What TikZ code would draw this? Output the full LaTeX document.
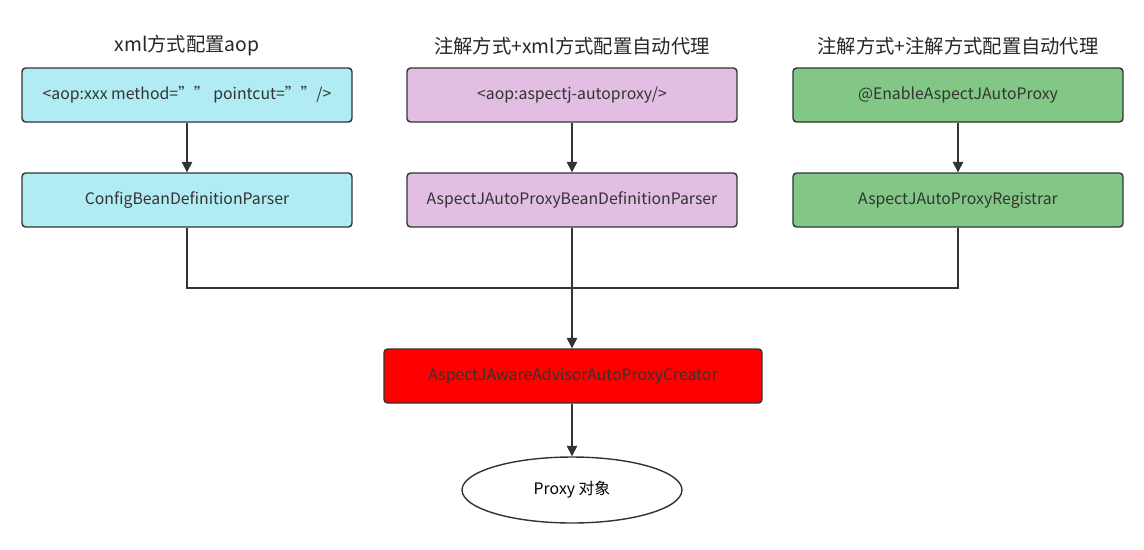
\documentclass[tikz,border=0pt]{standalone}
\usepackage{fontspec}
\setmainfont{Noto Sans CJK SC}
\usetikzlibrary{arrows.meta,shapes.geometric}
\definecolor{boxcyan}{HTML}{B1EBF3}
\definecolor{boxpink}{HTML}{E1BEE2}
\definecolor{boxgreen}{HTML}{82C785}
\begin{document}
\begin{tikzpicture}[x=0.02cm,y=-0.02cm,
    box/.style={draw=black!80, thick, rounded corners=2pt, minimum width=6.6cm, minimum height=1.08cm, font=\fontsize{9}{10}\selectfont, text=black!80},
    title/.style={font=\fontsize{11}{12}\selectfont, text=black!85},
    arr/.style={thick, draw=black!80, -{Triangle[length=6pt,width=6pt]}},
    ln/.style={thick, draw=black!80}]
    \useasboundingbox (0,0) rectangle (1144,549);
    % titles
    \node[title] (t1) at (187,46) {xml方式配置aop};
    \node[title] (t2) at (572,46) {注解方式+xml方式配置自动代理};
    \node[title] (t3) at (958,46) {注解方式+注解方式配置自动代理};
    % first row
    \node[box, fill=boxcyan] (a1) at (187,95) {<aop:xxx method="{}" pointcut="{}"/>};
    \node[box, fill=boxpink] (a2) at (572,95) {<aop:aspectj-autoproxy/>};
    \node[box, fill=boxgreen] (a3) at (958,95) {@EnableAspectJAutoProxy};
    % second row
    \node[box, fill=boxcyan] (b1) at (187,200) {ConfigBeanDefinitionParser};
    \node[box, fill=boxpink] (b2) at (572,200) {AspectJAutoProxyBeanDefinitionParser};
    \node[box, fill=boxgreen] (b3) at (958,200) {AspectJAutoProxyRegistrar};
    % creator
    \node[box, fill=red, minimum width=7.56cm] (c) at (573,376) {AspectJAwareAdvisorAutoProxyCreator};
    \node[draw=black!80, thick, ellipse, minimum width=4.4cm, minimum height=1.32cm, font=\fontsize{9}{10}\selectfont] (p) at (572,490) {Proxy 对象};
    \coordinate (j1) at (187,288);
    \coordinate (j3) at (958,288);
    \draw[arr] (a1) -- (b1);
    \draw[arr] (a2) -- (b2);
    \draw[arr] (a3) -- (b3);
    \draw[ln] (b1) -- (j1) -- (j3) -- (b3);
    \draw[arr] (b2.south) -- (c.north -| b2.south);
    \draw[arr] (c.south -| p.north) -- (p);
\end{tikzpicture}
\end{document}
